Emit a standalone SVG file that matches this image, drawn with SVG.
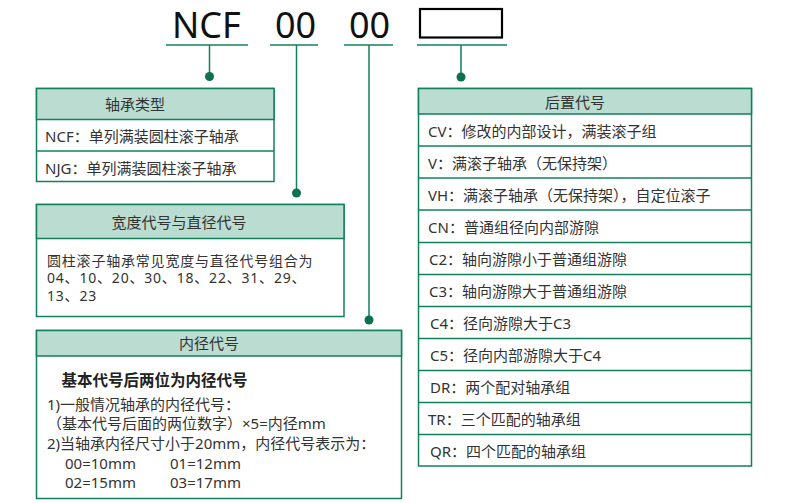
<svg xmlns="http://www.w3.org/2000/svg" width="790" height="503" viewBox="0 0 790 503">
<style>
.bg{fill:#ffffff}
.box{fill:#ffffff;stroke:#12805a;stroke-width:1.5}
.hd{fill:#bbdcd1;stroke:#12805a;stroke-width:1.5}
.sep{stroke:#12805a;stroke-width:1.5;fill:none}
.ln{stroke:#12805a;stroke-width:1.5;fill:none}
.dot{fill:#0d7050}
.t{font-family:"Noto Sans","Noto Sans CJK SC",sans-serif;font-size:15px;fill:#333333}
.ts{font-family:"Noto Sans","Noto Sans CJK SC",sans-serif;font-size:14px;letter-spacing:0.8px;fill:#333333}
.th{font-family:"Noto Sans","Noto Sans CJK SC",sans-serif;font-size:15px;fill:#333333;text-anchor:middle}
.tb{font-family:"Noto Sans","Noto Sans CJK SC",sans-serif;font-size:15.5px;font-weight:bold;fill:#222222}
.big{font-family:"Noto Sans","Noto Sans CJK SC",sans-serif;font-size:36px;fill:#111111}
</style>
<rect class="bg" x="0" y="0" width="790" height="503"/>

<g id="code">
<text class="big" x="172" y="38">NCF</text>
<text class="big" x="275" y="38">00</text>
<text class="big" x="349" y="38">00</text>
<rect x="420" y="9" width="82" height="28.5" fill="#ffffff" stroke="#000000" stroke-width="2.2"/>
</g>

<g id="connectors">
<line class="ln" x1="166" y1="45" x2="248" y2="45"/>
<line class="ln" x1="270" y1="45" x2="318" y2="45"/>
<line class="ln" x1="344" y1="45" x2="393" y2="45"/>
<line class="ln" x1="417" y1="45" x2="507" y2="45"/>
<line class="ln" x1="209.5" y1="45" x2="209.5" y2="76"/>
<line class="ln" x1="296.5" y1="45" x2="296.5" y2="193"/>
<line class="ln" x1="369" y1="45" x2="369" y2="320"/>
<line class="ln" x1="461" y1="45" x2="461" y2="77"/>
<circle class="dot" cx="209.5" cy="76.5" r="4.5"/>
<circle class="dot" cx="296.5" cy="193" r="4.5"/>
<circle class="dot" cx="369" cy="320" r="4.5"/>
<circle class="dot" cx="461" cy="77" r="4.5"/>
</g>

<g id="type">
<rect class="box" x="36.5" y="88.5" width="237.5" height="93"/>
<rect class="hd" x="36.5" y="88.5" width="237.5" height="31"/>
<line class="sep" x1="36.5" y1="151" x2="274" y2="151"/>
<text class="th" x="135" y="110">轴承类型</text>
<text class="t" x="45" y="142">NCF：单列满装圆柱滚子轴承</text>
<text class="t" x="45" y="174">NJG：单列满装圆柱滚子轴承</text>
</g>

<g id="width">
<rect class="box" x="36.5" y="204.5" width="307.5" height="112"/>
<rect class="hd" x="36.5" y="204.5" width="307.5" height="34"/>
<text class="th" x="179" y="228">宽度代号与直径代号</text>
<text class="ts" x="47" y="265.5">圆柱滚子轴承常见宽度与直径代号组合为<tspan x="47" dy="17.5">04、10、20、30、18、22、31、29、</tspan><tspan x="47" dy="17.5">13、23</tspan></text>
</g>

<g id="bore">
<rect class="box" x="36.5" y="330.5" width="365" height="168"/>
<rect class="hd" x="36.5" y="330.5" width="365" height="25.5"/>
<text class="th" x="209" y="349">内径代号</text>
<text class="tb" x="61.5" y="385.5">基本代号后两位为内径代号</text>
<text class="t" x="47" y="409.5">1)一般情况轴承的内径代号：</text>
<text class="t" x="47" y="429">（基本代号后面的两位数字）×5=内径mm</text>
<text class="t" x="47" y="449">2)当轴承内径尺寸小于20mm，内径代号表示为：</text>
<text class="t" x="65" y="469">00=10mm</text>
<text class="t" x="170" y="469">01=12mm</text>
<text class="t" x="65" y="488">02=15mm</text>
<text class="t" x="170" y="488">03=17mm</text>
</g>

<g id="suffix">
<rect class="box" x="418.5" y="88.5" width="333" height="377.5"/>
<rect class="hd" x="418.5" y="88.5" width="333" height="25.5"/>
<line class="sep" x1="418.5" y1="146" x2="751.5" y2="146"/>
<line class="sep" x1="418.5" y1="178" x2="751.5" y2="178"/>
<line class="sep" x1="418.5" y1="210" x2="751.5" y2="210"/>
<line class="sep" x1="418.5" y1="242.5" x2="751.5" y2="242.5"/>
<line class="sep" x1="418.5" y1="274.5" x2="751.5" y2="274.5"/>
<line class="sep" x1="418.5" y1="306.5" x2="751.5" y2="306.5"/>
<line class="sep" x1="418.5" y1="338.5" x2="751.5" y2="338.5"/>
<line class="sep" x1="418.5" y1="370.5" x2="751.5" y2="370.5"/>
<line class="sep" x1="418.5" y1="402.5" x2="751.5" y2="402.5"/>
<line class="sep" x1="418.5" y1="434.5" x2="751.5" y2="434.5"/>
<text class="th" x="575" y="108">后置代号</text>
<text class="t" x="428" y="137">CV：修改的内部设计，满装滚子组</text>
<text class="t" x="428" y="169">V：满滚子轴承（无保持架）</text>
<text class="t" x="428" y="201">VH：满滚子轴承（无保持架），自定位滚子</text>
<text class="t" x="428" y="233">CN：普通组径向内部游隙</text>
<text class="t" x="429" y="265">C2：轴向游隙小于普通组游隙</text>
<text class="t" x="429" y="297">C3：轴向游隙大于普通组游隙</text>
<text class="t" x="430" y="329">C4：径向游隙大于C3</text>
<text class="t" x="430" y="361">C5：径向内部游隙大于C4</text>
<text class="t" x="430" y="393">DR：两个配对轴承组</text>
<text class="t" x="428" y="425">TR：三个匹配的轴承组</text>
<text class="t" x="430" y="457">QR：四个匹配的轴承组</text>
</g>
</svg>
